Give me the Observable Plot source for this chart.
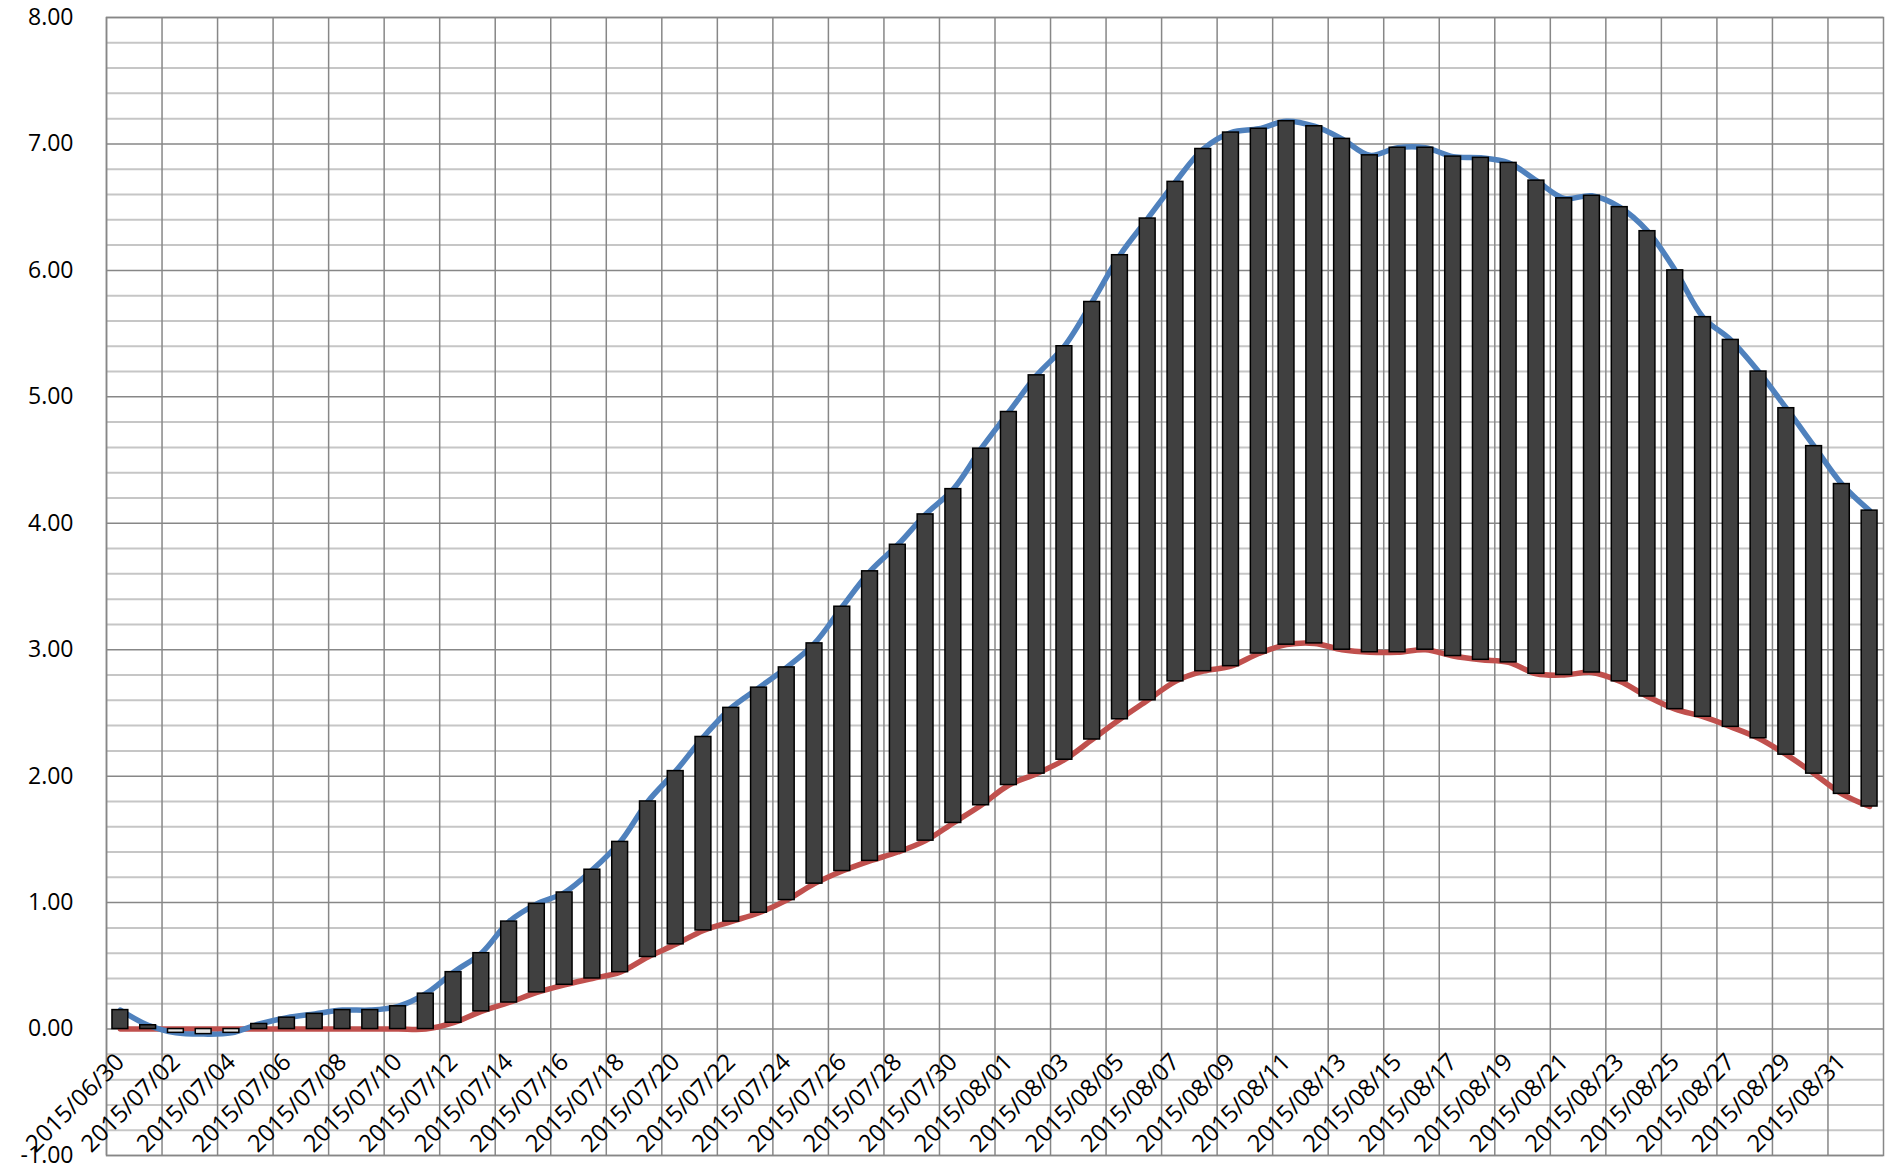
<!DOCTYPE html>
<html>
<head>
<meta charset="utf-8">
<script src="https://cdn.jsdelivr.net/npm/d3@7"></script>
<script src="https://cdn.jsdelivr.net/npm/@observablehq/plot@0.6"></script>
<style>
  html, body { margin: 0; padding: 0; background: #ffffff; }
  #chart svg { display: block; }
</style>
</head>
<body>
<div id="chart"></div>
<script>
// ---- data ----
const dates = [
  "2015/06/30","2015/07/01","2015/07/02","2015/07/03","2015/07/04","2015/07/05","2015/07/06","2015/07/07",
  "2015/07/08","2015/07/09","2015/07/10","2015/07/11","2015/07/12","2015/07/13","2015/07/14","2015/07/15",
  "2015/07/16","2015/07/17","2015/07/18","2015/07/19","2015/07/20","2015/07/21","2015/07/22","2015/07/23",
  "2015/07/24","2015/07/25","2015/07/26","2015/07/27","2015/07/28","2015/07/29","2015/07/30","2015/07/31",
  "2015/08/01","2015/08/02","2015/08/03","2015/08/04","2015/08/05","2015/08/06","2015/08/07","2015/08/08",
  "2015/08/09","2015/08/10","2015/08/11","2015/08/12","2015/08/13","2015/08/14","2015/08/15","2015/08/16",
  "2015/08/17","2015/08/18","2015/08/19","2015/08/20","2015/08/21","2015/08/22","2015/08/23","2015/08/24",
  "2015/08/25","2015/08/26","2015/08/27","2015/08/28","2015/08/29","2015/08/30","2015/08/31","2015/09/01"
];
// blue series
const blueValues = [
  0.15, 0.03, -0.03, -0.04, -0.03, 0.04, 0.09, 0.12,
  0.15, 0.15, 0.18, 0.28, 0.45, 0.60, 0.85, 0.99,
  1.08, 1.26, 1.48, 1.80, 2.04, 2.31, 2.54, 2.70,
  2.86, 3.05, 3.34, 3.62, 3.83, 4.07, 4.27, 4.59,
  4.88, 5.17, 5.40, 5.75, 6.12, 6.41, 6.70, 6.96,
  7.09, 7.12, 7.18, 7.14, 7.04, 6.91, 6.97, 6.97,
  6.90, 6.89, 6.85, 6.71, 6.57, 6.59, 6.50, 6.31,
  6.00, 5.63, 5.45, 5.20, 4.91, 4.61, 4.31, 4.10
];
// red series
const redValues = [
  0.00, 0.00, 0.00, 0.00, 0.00, 0.00, 0.00, 0.00,
  0.00, 0.00, 0.00, 0.00, 0.05, 0.14, 0.21, 0.29,
  0.35, 0.40, 0.45, 0.57, 0.67, 0.78, 0.85, 0.92,
  1.02, 1.15, 1.25, 1.33, 1.40, 1.49, 1.63, 1.77,
  1.93, 2.02, 2.13, 2.29, 2.45, 2.60, 2.75, 2.83,
  2.87, 2.97, 3.04, 3.05, 3.00, 2.98, 2.98, 3.00,
  2.95, 2.92, 2.90, 2.81, 2.80, 2.82, 2.75, 2.63,
  2.53, 2.47, 2.39, 2.30, 2.17, 2.02, 1.86, 1.76
];
// tick labels / gridline values
const xTickLabels = dates.filter((d, i) => i % 2 === 0);
const yMajorTicks = [-1, 0, 1, 2, 3, 4, 5, 6, 7, 8];
const yMinorTicks = [-0.8, -0.6, -0.4, -0.2,
  0.2, 0.4, 0.6, 0.8, 1.2, 1.4, 1.6, 1.8, 2.2, 2.4, 2.6, 2.8,
  3.2, 3.4, 3.6, 3.8, 4.2, 4.4, 4.6, 4.8, 5.2, 5.4, 5.6, 5.8,
  6.2, 6.4, 6.6, 6.8, 7.2, 7.4, 7.6, 7.8];

// ---- chart ----
const W = 1886, H = 1163;
const mL = 106, mR = 3, mT = 17, mB = 8;
const step = (W - mL - mR) / dates.length;
const rows = dates.map((d, i) => ({date: d, high: blueValues[i], low: redValues[i]}));

const UP = "#404040", DOWN = "#e2e2e2";
const MAJOR = "#878787", MINOR = "#c6c6c6";
const FONT = "'Open Sans', 'Liberation Sans', sans-serif";

const chart = Plot.plot({
  width: W,
  height: H,
  marginLeft: mL,
  marginRight: mR,
  marginTop: mT,
  marginBottom: mB,
  style: {fontFamily: FONT, fontSize: "23px", color: "#000", background: "#fff", overflow: "visible"},
  x: {type: "band", domain: dates, paddingInner: 0.43, paddingOuter: 0.215, axis: null},
  y: {domain: [-1, 8]},
  marks: [
    Plot.ruleY(yMinorTicks, {stroke: MINOR, strokeWidth: 2}),
    Plot.ruleY(yMajorTicks, {stroke: MAJOR, strokeWidth: 1.5}),
    Plot.ruleX(xTickLabels, {x: d => d, dx: -step / 2, stroke: MAJOR, strokeWidth: 1.5}),
    Plot.frame({stroke: MAJOR, strokeWidth: 1.5}),
    Plot.line(rows, {x: "date", y: "low", stroke: "#C0504D", strokeWidth: 5.5, curve: "catmull-rom"}),
    Plot.line(rows, {x: "date", y: "high", stroke: "#4F81BD", strokeWidth: 5.5, curve: "catmull-rom"}),
    Plot.barY(rows, {
      x: "date", y1: "low", y2: "high",
      fill: d => (d.high >= d.low ? UP : DOWN),
      stroke: "#000", strokeWidth: 1.5
    }),
    Plot.axisY({
      ticks: yMajorTicks, tickSize: 0, tickPadding: 33,
      tickFormat: d => d.toFixed(2), fontSize: 23, fill: "#000", label: null
    }),
    Plot.text(xTickLabels, {
      x: d => d, y: () => 0, text: d => d,
      rotate: -45, textAnchor: "end", dy: 29, fontSize: 24, fill: "#000"
    })
  ]
});
document.getElementById("chart").appendChild(chart);
</script>
</body>
</html>
